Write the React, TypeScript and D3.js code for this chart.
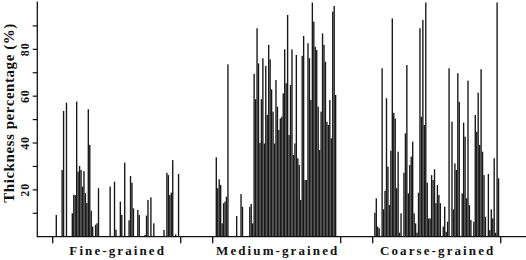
import React from "react";
import * as d3 from "d3";

const categories = ["Fine-grained", "Medium-grained", "Coarse-grained"];

const SLOTS = 88;

function fill(pairs: [number, number][]): number[] {
  const a = new Array(SLOTS).fill(0);
  pairs.forEach(([i, v]) => (a[i] = v));
  return a;
}

const fineValues = fill([
  [2, 9.3], [6, 28.5], [7, 53.7], [9, 57.2], [13, 10], [14, 17.8], [15, 17.8], [16, 57.7],
  [17, 27.8], [18, 30.2], [19, 28.5], [20, 21.4], [21, 28], [22, 18.6], [23, 14.4], [24, 54.4],
  [25, 39.2], [26, 11.1], [27, 4.3], [29, 5.1], [30, 5.7], [31, 20.7], [39, 21.4], [42, 23.5],
  [43, 3], [46, 15], [47, 9.3], [49, 31.6], [52, 7], [53, 25.9], [54, 23], [55, 12.1],
  [58, 11.4], [59, 9.3], [63, 0.8], [64, 9], [65, 15.7], [67, 16.8], [69, 5.7], [76, 2.9],
  [78, 27.3], [79, 26.3], [80, 17.8], [81, 18.8], [82, 32.7], [84, 1], [86, 26.8],
]);

const mediumValues = fill([
  [2, 33.9], [3, 20.7], [4, 24.5], [5, 22.1], [6, 5.7], [7, 14.3], [8, 15], [9, 17.1], [10, 73.6],
  [16, 8.8], [19, 18.2], [20, 12.8], [25, 12.8], [26, 14], [27, 5.7], [28, 69.5], [29, 58.7],
  [30, 89], [31, 74], [32, 40.1], [33, 58.7], [34, 76.2], [35, 39.8], [36, 72.9], [37, 52],
  [38, 81.9], [39, 75.7], [40, 62.9], [41, 53.4], [42, 39.8], [43, 66.9], [44, 55.5], [45, 45.6],
  [46, 50.5], [47, 51.2], [48, 61.2], [49, 80], [50, 65.5], [51, 94.7], [52, 43.4], [53, 64.8],
  [54, 80], [55, 34.9], [56, 39.8], [57, 77.6], [58, 33.5], [59, 30.6], [60, 15.7], [61, 77.2],
  [62, 85.7], [63, 24.2], [64, 24.2], [65, 82.6], [66, 76.2], [67, 58.4], [68, 100], [69, 91.8],
  [70, 81.1], [71, 79.7], [72, 55.5], [73, 37], [74, 53.4], [75, 86.8], [76, 81.9], [77, 74.7],
  [78, 49.1], [79, 47.7], [80, 58.4], [81, 42], [82, 96.1], [83, 98.5], [84, 60.5],
]);

const coarseValues = fill([
  [1, 10.2], [2, 16.4], [3, 4.3], [4, 3.6], [6, 71.9], [7, 11.7], [8, 19.6], [9, 59.1], [10, 29.9],
  [11, 13.5], [12, 36.7], [13, 93.2], [14, 52.9], [15, 50.5], [16, 20.7], [17, 36.3], [18, 1.7],
  [19, 10], [21, 27.3], [22, 44.1], [23, 73.3], [24, 18.5], [25, 30.6], [26, 34.2], [27, 40.6],
  [28, 10], [29, 5.7], [30, 1.7], [31, 18.8], [32, 89], [33, 51.2], [34, 92.5], [35, 47.7],
  [36, 100], [37, 23.1], [38, 7.8], [39, 7.8], [40, 26.3], [41, 24.2], [42, 28.8], [43, 14.3],
  [44, 22.1], [45, 17.8], [46, 14.3], [48, 4.3], [49, 12.8], [50, 2.1], [51, 6.4], [52, 71.9],
  [54, 49.1], [55, 11.7], [56, 31.3], [57, 28.5], [58, 69.8], [59, 57.6], [61, 18.5], [62, 48.7],
  [63, 42.7], [64, 16.4], [65, 66.6], [66, 13.5], [67, 7.1], [69, 6.4], [70, 52], [71, 44.8],
  [72, 61.5], [73, 39.2], [74, 71.5], [75, 36.3], [76, 26.3], [77, 8.5], [79, 26.8], [80, 2.8],
  [81, 11.7], [82, 7.8], [83, 33.5], [84, 1.7], [85, 100], [86, 24.9],
]);

const seriesValues = [fineValues, mediumValues, coarseValues];
const majorTicks = [20, 40, 60, 80];
const minorTicks = [10, 30, 50, 70, 90];
const yTitle = "Thickness percentage (%)";

const W = 526;
const H = 260;
const axisX = 37.3;
const baseY = 236.7;
const font = "'Liberation Serif', 'Times New Roman', serif";

export default function App() {
  const y = d3.scaleLinear().domain([0, 100]).range([baseY, 2.5]);
  const gx = d3.scaleBand<string>().domain(categories).range([36.7, 516.7]).paddingInner(0.2).paddingOuter(0.1);
  const sx = d3.scaleBand<number>().domain(d3.range(SLOTS)).range([0, gx.bandwidth()]).paddingInner(0.06);

  return (
    <svg width={W} height={H} style={{ position: "absolute", left: 0, top: 0, background: "#fff" }}>
      {categories.map((c, gi) => {
        const x0 = gx(c)!;
        return (
          <g key={c}>
            {seriesValues[gi].map((v, i) =>
              v > 0 ? (
                <rect key={i} x={x0 + sx(i)!} y={y(v)} width={sx.bandwidth()} height={baseY - y(v)} fill="#181818" />
              ) : null
            )}
            <line x1={x0} x2={x0} y1={baseY} y2={243.3} stroke="#111" strokeWidth={1.3} />
            <line x1={x0 + gx.bandwidth()} x2={x0 + gx.bandwidth()} y1={baseY} y2={243.3} stroke="#111" strokeWidth={1.3} />
            <text x={x0 + gx.bandwidth() / 2 + 1} y={255} textAnchor="middle" fontFamily={font} fontWeight="bold" fontSize={13} letterSpacing={2.1} fill="#111">
              {c}
            </text>
          </g>
        );
      })}
      <line x1={axisX} x2={W} y1={baseY} y2={baseY} stroke="#111" strokeWidth={1.3} />
      <line x1={axisX} x2={axisX} y1={1.5} y2={baseY + 0.6} stroke="#111" strokeWidth={1.3} />
      {[...majorTicks, ...minorTicks].map((t) => (
        <line key={t} x1={axisX - 4.6} x2={axisX} y1={y(t)} y2={y(t)} stroke="#111" strokeWidth={1.2} />
      ))}
      {majorTicks.map((t) => (
        <text key={t} transform={`translate(28.6,${y(t)}) rotate(-90)`} textAnchor="middle" fontFamily={font} fontWeight="bold" fontSize={12} letterSpacing={0.8} fill="#111">
          {t}
        </text>
      ))}
      <text transform={`translate(13.6,113) rotate(-90)`} textAnchor="middle" fontFamily={font} fontWeight="bold" fontSize={15} letterSpacing={0.55} fill="#111">
        {yTitle}
      </text>
    </svg>
  );
}
